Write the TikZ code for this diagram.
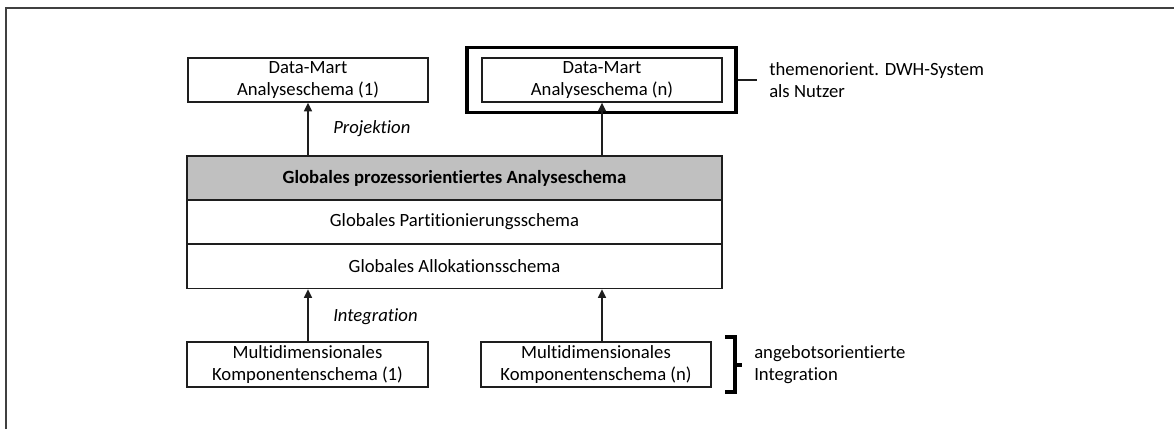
\documentclass[tikz,border=0pt]{standalone}
\usepackage{fontspec}
\setmainfont{Carlito}[RawFeature={-liga;-dlig}]
\usetikzlibrary{arrows.meta}
\definecolor{edge}{RGB}{30,30,30}
\definecolor{headgray}{RGB}{192,192,192}
\begin{document}
\begin{tikzpicture}[x=0.75pt,y=-0.75pt,
  every node/.style={font=\fontsize{14}{16.5}\selectfont},
  box/.style={draw=edge, line width=1pt, fill=white, align=center, inner sep=0pt, minimum height=33pt},
  arr/.style={draw=edge, line width=1.1pt, -{Triangle[width=6pt,length=6.5pt]}},
  note/.style={align=left, anchor=west, inner sep=0pt}]
\useasboundingbox (0,0) rectangle (1174,429);
% outer frame (partly visible)
\draw[line width=1.2pt, draw=black!75] (6,429) -- (6,8) -- (1174,8);
% top boxes
\node[box, minimum width=180pt] (dm1) at (308,80) {Data-Mart\\Analyseschema (1)};
\node[draw=black, line width=2.4pt, minimum width=201.75pt, minimum height=48.75pt, inner sep=0pt] (outer) at (601.5,80) {};
\node[box, minimum width=180pt] (dmn) at (602,80) {Data-Mart\\Analyseschema (n)};
% global schema
\node[box, minimum width=401.25pt, fill=headgray] (g) at (454.5,178) {\textbf{Globales prozessorientiertes Analyseschema}};
\node[box, minimum width=401.25pt] (p) at (454.5,222) {Globales Partitionierungsschema};
\node[box, minimum width=401.25pt] (a) at (454.5,266.5) {Globales Allokationsschema};
% component schemas
\node[box, minimum width=180.75pt, minimum height=33.75pt] (m1) at (307.5,364.5) {Multidimensionales\\Komponentenschema (1)};
\node[box, minimum width=172.5pt, minimum height=33.75pt] (mn) at (596,364.5) {Multidimensionales\\Komponentenschema (n)};
% arrows
\draw[arr] (g.north -| dm1.south) -- (dm1.south);
\draw[arr] (g.north -| dmn.south) -- (dmn.south);
\draw[arr] (m1.north -| dm1.south) -- (a.south -| dm1.south);
\draw[arr] (mn.north -| dmn.south) -- (a.south -| dmn.south);
% labels
\node[note, font=\fontsize{14}{16.5}\selectfont\itshape] (proj) at (333,129) {Projektion};
\node[note, font=\fontsize{14}{16.5}\selectfont\itshape] (integ) at (333,317) {Integration};
% side notes
\coordinate (tick) at (757,80);
\draw[edge, line width=1pt] (outer.east) -- (tick);
\node[note] (n1) at (769,80) {themenorient. DWH-System\\als Nutzer};
\draw[black, line width=2.4pt] (725,337) -- (735,337) -- (735,365) -- (742,365) (735,365) -- (735,392) -- (725,392);
\node[note] (n2) at (754,365) {angebotsorientierte\\Integration};
\end{tikzpicture}
\end{document}
